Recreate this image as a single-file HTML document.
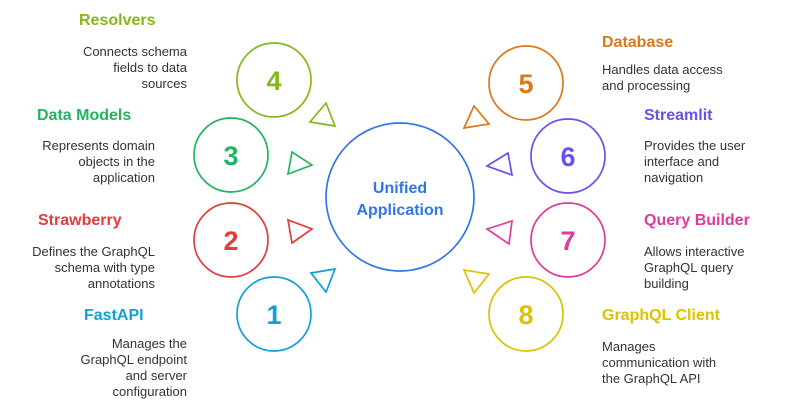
<!DOCTYPE html>
<html><head><meta charset="utf-8"><style>
html,body{margin:0;padding:0;background:#fff}
svg{display:block}
.t{font-family:"Liberation Sans",sans-serif;font-weight:bold;font-size:16px}
.d{font-family:"Liberation Sans",sans-serif;font-size:13px;fill:#333}
.n{font-family:"Liberation Sans",sans-serif;font-weight:bold;font-size:27px;text-anchor:middle;dominant-baseline:central}
</style></head><body>
<svg width="800" height="405" viewBox="0 0 800 405" xmlns="http://www.w3.org/2000/svg">
<g fill="none" stroke-width="1.7">
<circle cx="400" cy="197" r="74" stroke="#2f76e8"/>
<circle cx="274" cy="80" r="37" stroke="#84b819"/>
<circle cx="231" cy="155" r="37" stroke="#22b561"/>
<circle cx="231" cy="240" r="37" stroke="#e33c3c"/>
<circle cx="274" cy="314" r="37" stroke="#12a0d8"/>
<circle cx="526" cy="83" r="37" stroke="#e07818"/>
<circle cx="568" cy="156" r="37" stroke="#6d4ef0"/>
<circle cx="568" cy="240" r="37" stroke="#e03a9a"/>
<circle cx="526" cy="314" r="37" stroke="#dcc200"/>
<polygon points="310,122 335,126 326,103" stroke="#84b819"/>
<polygon points="288,174 312,165 292,152" stroke="#22b561"/>
<polygon points="292,243 312,229 288,220" stroke="#e33c3c"/>
<polygon points="311,273 335,269 326,292" stroke="#12a0d8"/>
<polygon points="464,128 489,124 474,106" stroke="#e07818"/>
<polygon points="487,166 508,153 512,175" stroke="#6d4ef0"/>
<polygon points="487,229 512,221 509,244" stroke="#e03a9a"/>
<polygon points="464,270 489,274 474,293" stroke="#dcc200"/>
</g>
<text class="n" x="274" y="81" fill="#84b819">4</text>
<text class="n" x="231" y="156" fill="#22b561">3</text>
<text class="n" x="231" y="241" fill="#e33c3c">2</text>
<text class="n" x="274" y="315" fill="#12a0d8">1</text>
<text class="n" x="526" y="84" fill="#e07818">5</text>
<text class="n" x="568" y="157" fill="#6d4ef0">6</text>
<text class="n" x="568" y="241" fill="#e03a9a">7</text>
<text class="n" x="526" y="315" fill="#dcc200">8</text>
<text class="t" x="400" y="193" fill="#2f76e8" text-anchor="middle">Unified</text>
<text class="t" x="400" y="215" fill="#2f76e8" text-anchor="middle">Application</text>

<text class="t" x="79" y="25" fill="#84b819">Resolvers</text>
<g class="d" text-anchor="end"><text x="187" y="56">Connects schema</text><text x="187" y="72">fields to data</text><text x="187" y="88">sources</text></g>
<text class="t" x="37" y="120" fill="#22b561">Data Models</text>
<g class="d" text-anchor="end"><text x="155" y="150">Represents domain</text><text x="155" y="166">objects in the</text><text x="155" y="182">application</text></g>
<text class="t" x="38" y="225" fill="#e33c3c">Strawberry</text>
<g class="d" text-anchor="end"><text x="155" y="256">Defines the GraphQL</text><text x="155" y="272">schema with type</text><text x="155" y="288">annotations</text></g>
<text class="t" x="84" y="320" fill="#12a0d8">FastAPI</text>
<g class="d" text-anchor="end"><text x="187" y="348">Manages the</text><text x="187" y="364">GraphQL endpoint</text><text x="187" y="380">and server</text><text x="187" y="396">configuration</text></g>

<text class="t" x="602" y="47" fill="#e07818">Database</text>
<g class="d"><text x="602" y="74">Handles data access</text><text x="602" y="90">and processing</text></g>
<text class="t" x="644" y="120" fill="#6d4ef0">Streamlit</text>
<g class="d"><text x="644" y="150">Provides the user</text><text x="644" y="166">interface and</text><text x="644" y="182">navigation</text></g>
<text class="t" x="644" y="225" fill="#e03a9a">Query Builder</text>
<g class="d"><text x="644" y="256">Allows interactive</text><text x="644" y="272">GraphQL query</text><text x="644" y="288">building</text></g>
<text class="t" x="602" y="320" fill="#dcc200">GraphQL Client</text>
<g class="d"><text x="602" y="351">Manages</text><text x="602" y="367">communication with</text><text x="602" y="383">the GraphQL API</text></g>
</svg>
</body></html>
